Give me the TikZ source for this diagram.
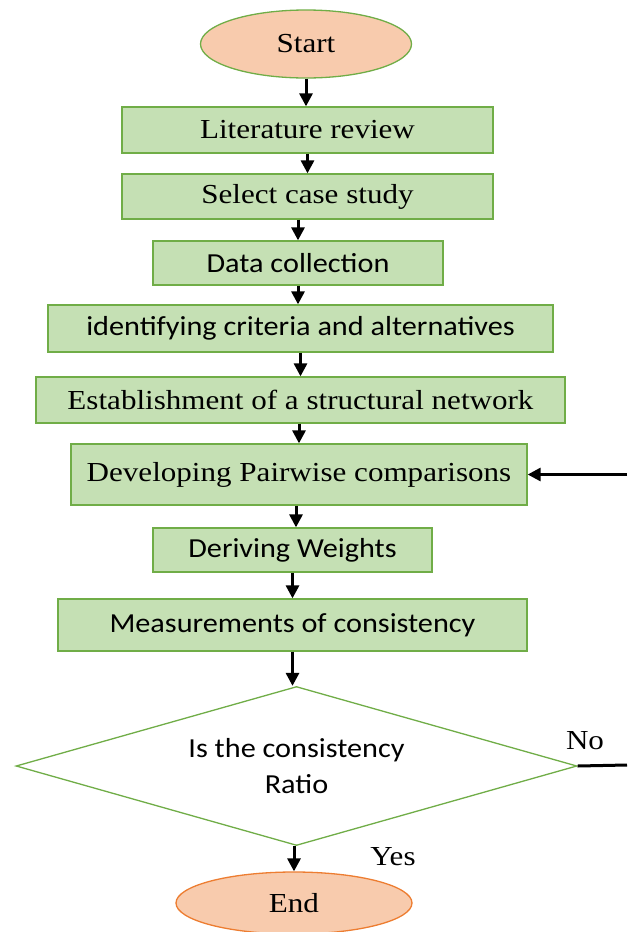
\documentclass[tikz,border=0pt]{standalone}
\usepackage{fontspec}
\setmainfont{Liberation Serif}[FakeStretch=1.13]
\newfontfamily\calib{Carlito}[FakeStretch=1.1]
\usetikzlibrary{shapes.geometric,arrows.meta}
\definecolor{boxfill}{HTML}{C5E0B4}
\definecolor{boxline}{HTML}{70AD47}
\definecolor{ovfill}{HTML}{F8CBAD}
\definecolor{ovline}{HTML}{ED7D31}
\begin{document}
\begin{tikzpicture}[x=1pt,y=-1pt,
  txt/.style={font=\fontsize{27.5}{34}\selectfont},
  stxt/.style={font=\calib\fontsize{27.5}{36}\selectfont},
  proc/.style={rectangle, draw=boxline, fill=boxfill, line width=1.3pt, inner sep=0pt},
  oval/.style={ellipse, fill=ovfill, line width=1.3pt, inner sep=0pt},
  decide/.style={diamond, draw=boxline, fill=white, line width=1.3pt, inner sep=0pt, aspect=3.5, align=center},
  arr/.style={draw=black, line width=3pt, -{Triangle[width=13pt,length=13pt]}},
  plain/.style={draw=black, line width=3pt}
]
\useasboundingbox (0,0) rectangle (627,932);

\node[oval, draw=boxline, minimum width=211pt, minimum height=68pt, txt] (start) at (306,44) {Start};
\node[proc, minimum width=371pt, minimum height=46pt, txt] (lit) at (307.5,130) {Literature review};
\node[proc, minimum width=371pt, minimum height=45pt, txt] (sel) at (307.5,196.5) {Select case study};
\node[proc, minimum width=290pt, minimum height=44pt, stxt] (data) at (298,263) {Data collection};
\node[proc, minimum width=505pt, minimum height=47pt, stxt] (ident) at (300.5,328.5) {identifying criteria and alternatives};
\node[proc, minimum width=529pt, minimum height=46pt, txt] (estab) at (300.5,400) {Establishment of a structural network};
\node[proc, minimum width=456pt, minimum height=61pt, txt] (dev) at (299,474.5) {Developing Pairwise comparisons};
\node[proc, minimum width=279pt, minimum height=44pt, stxt] (der) at (292.5,550) {Deriving Weights};
\node[proc, minimum width=469pt, minimum height=52pt, stxt] (meas) at (292.5,625) {Measurements of consistency};
\node[decide, minimum width=561pt, minimum height=159pt, stxt] (dia) at (296.5,766) {Is the consistency\\Ratio};
\node[oval, draw=ovline, minimum width=236pt, minimum height=62pt, txt] (end) at (294,903) {End};

\node[txt] (no) at (585,741) {No};
\node[txt] (yes) at (393,857) {Yes};

\coordinate (rdia) at (627,765);
\coordinate (rdev) at (627,474.5);

\draw[arr] (start.south) -- (start.south |- lit.north);
\draw[arr] (lit.south) -- (lit.south |- sel.north);
\draw[arr] (sel.south -| data.center) -- (data.north);
\draw[arr] (data.south) -- (data.south |- ident.north);
\draw[arr] (ident.south) -- (ident.south |- estab.north);
\draw[arr] (estab.south -| dev.center) -- (dev.north);
\draw[arr] (dev.south -| 296,0) -- (296,0 |- der.north);
\draw[arr] (der.south) -- (der.south |- meas.north);
\draw[arr] (meas.south) -- (meas.south |- dia.north);
\draw[arr] (dia.south -| end.center) -- (end.north);
\draw[plain] (dia.east) -- (rdia);
\draw[arr] (rdev) -- (dev.east);
\end{tikzpicture}
\end{document}
